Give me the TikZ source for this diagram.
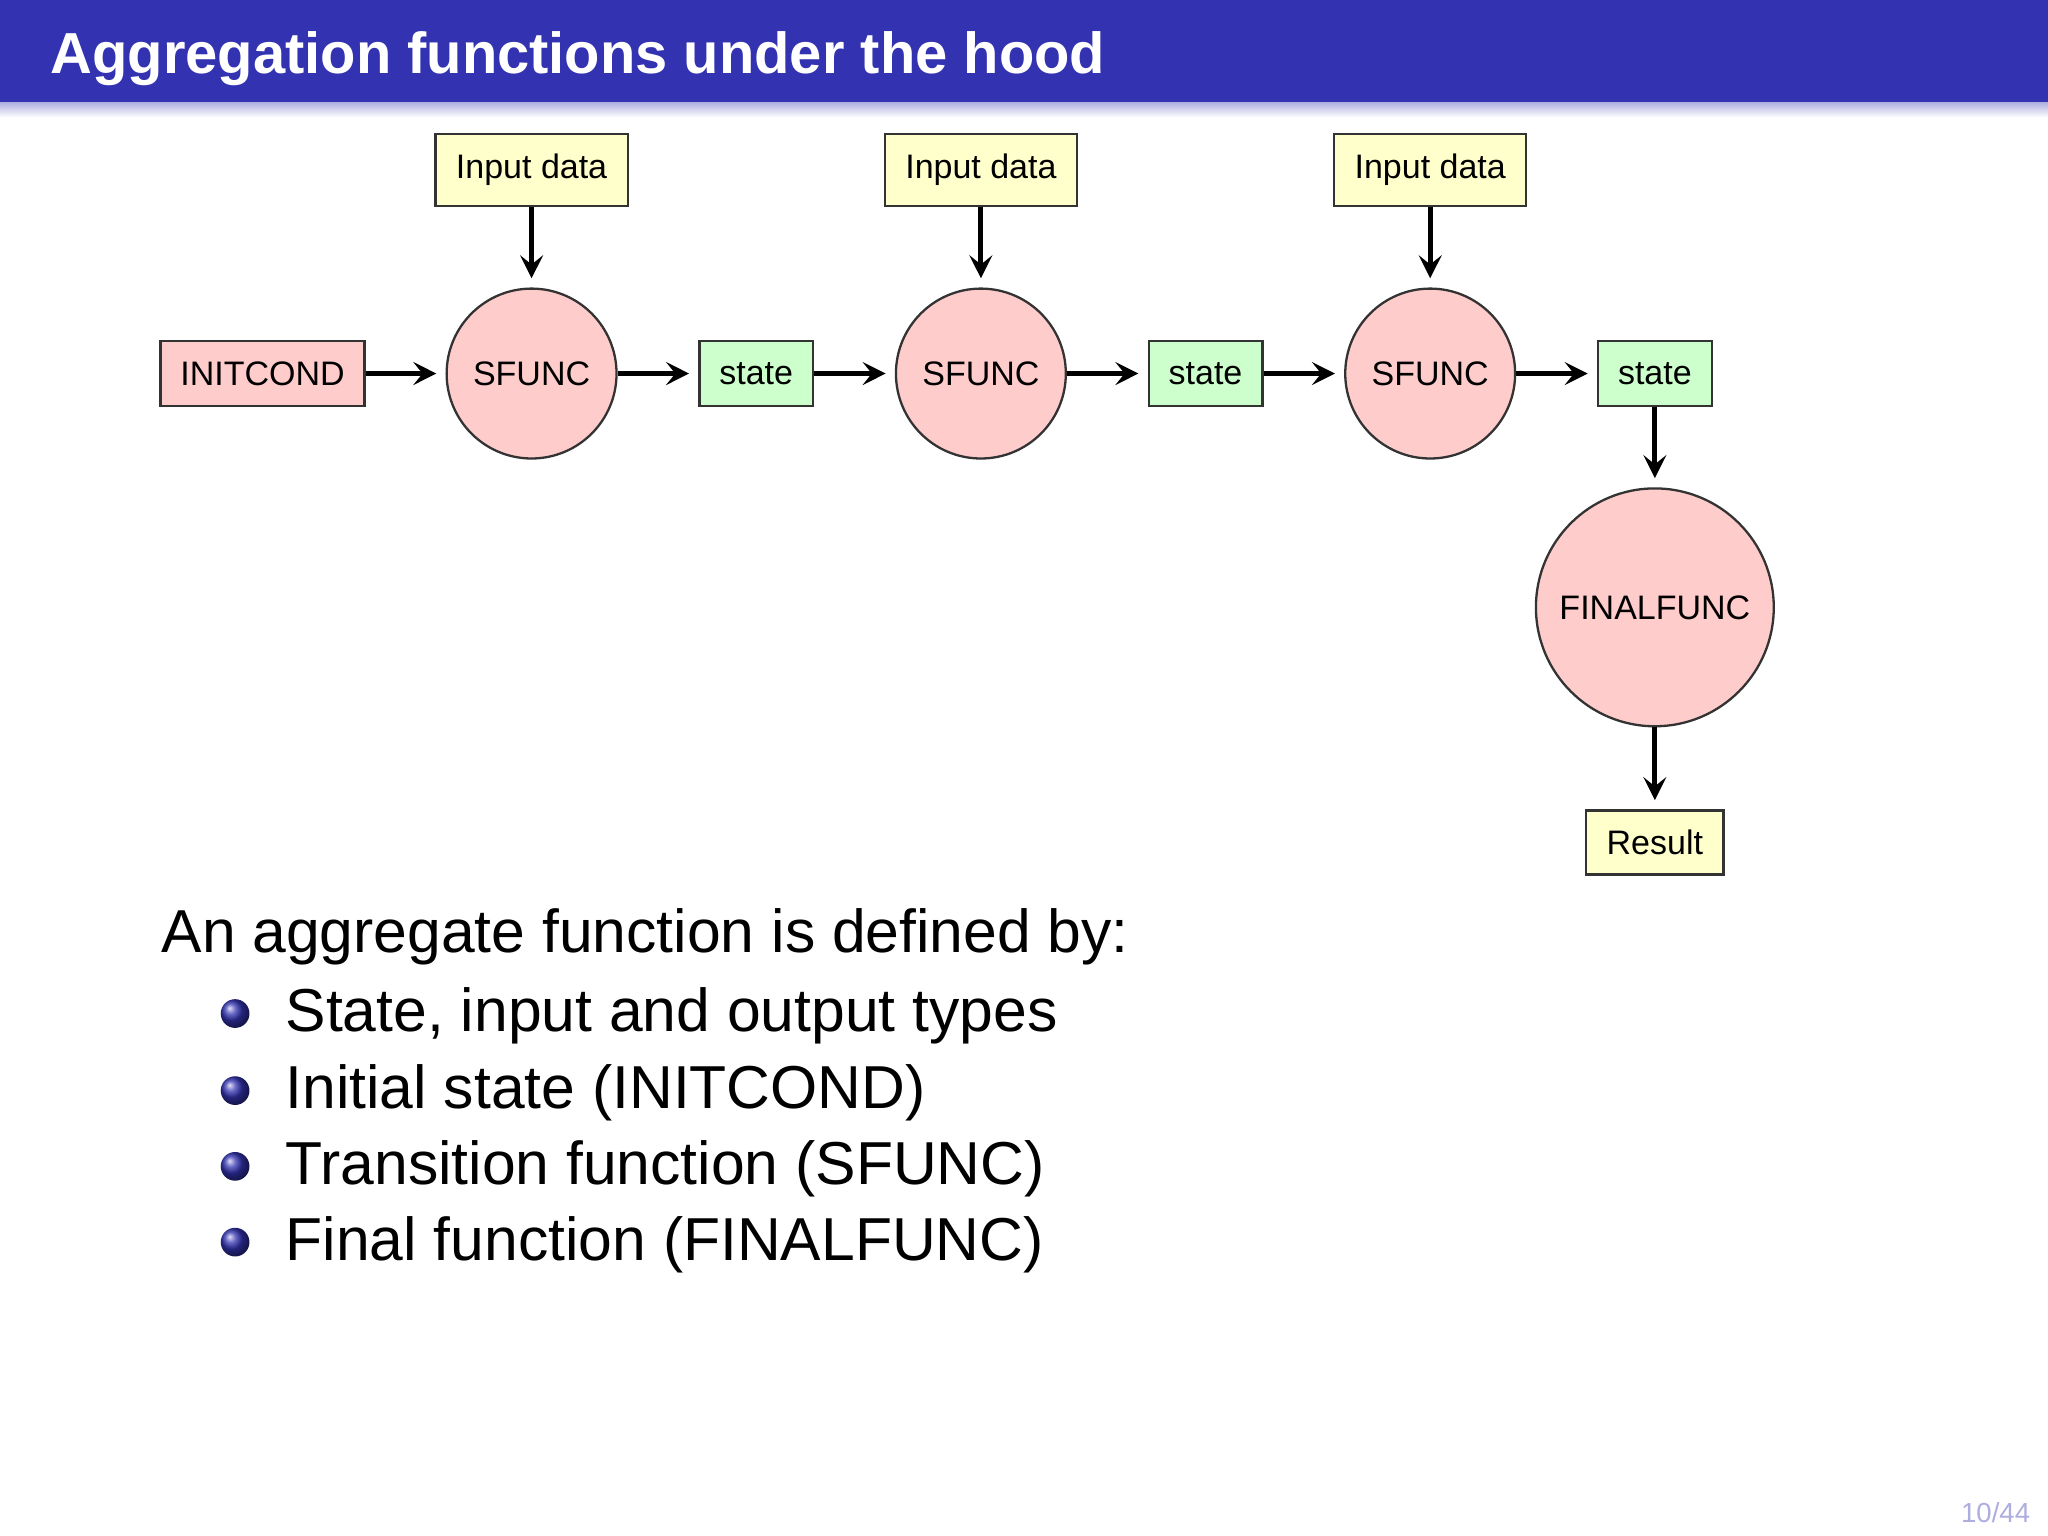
\documentclass[tikz,border=0pt]{standalone}
\usepackage{fontspec}
\setmainfont{Liberation Sans}
\usetikzlibrary{arrows.meta,shadings}
\definecolor{bar}{RGB}{51,51,178}
\definecolor{pinkf}{RGB}{255,204,204}
\definecolor{greenf}{RGB}{204,255,204}
\definecolor{yellowf}{RGB}{255,255,204}
\begin{document}
\begin{tikzpicture}[x=0.01cm,y=-0.01cm,
  box/.style={draw=black!80,line width=0.5pt,inner sep=0pt,font=\fontsize{7.4}{9}\selectfont},
  inp/.style={box,fill=yellowf,minimum width=147\pgflinewidth*0+1.47cm,minimum height=0.55cm},
  st/.style={box,fill=greenf,minimum width=0.87cm,minimum height=0.50cm},
  fn/.style={circle,draw=black!80,line width=0.5pt,fill=pinkf,inner sep=0pt,font=\fontsize{7.4}{9}\selectfont},
  ar/.style={-{Stealth[length=5pt,width=5pt,inset=2pt]},line width=1.1pt,shorten >=2pt},
  item/.style={anchor=base west,font=\fontsize{13.2}{15}\selectfont}]
\useasboundingbox (0,0) rectangle (1568,1176);
\shade[top color=bar!40,bottom color=white] (0,78) rectangle (1568,90);
\fill[bar] (0,0) rectangle (1568,78);
\node[anchor=base west,text=white,font=\fontsize{12.6}{15}\selectfont\bfseries,inner sep=0pt] (title) at (38,56) {Aggregation functions under the hood};
% diagram
\node[inp] (i1) at (407,130) {Input data};
\node[inp] (i2) at (751,130) {Input data};
\node[inp] (i3) at (1095,130) {Input data};
\node[box,fill=pinkf,minimum width=1.56cm,minimum height=0.50cm] (ic) at (201,286) {INITCOND};
\node[fn,minimum size=1.30cm] (s1) at (407,286) {SFUNC};
\node[fn,minimum size=1.30cm] (s2) at (751,286) {SFUNC};
\node[fn,minimum size=1.30cm] (s3) at (1095,286) {SFUNC};
\node[st] (t1) at (579,286) {state};
\node[st] (t2) at (923,286) {state};
\node[st] (t3) at (1267,286) {state};
\node[fn,minimum size=1.82cm] (ff) at (1267,465) {FINALFUNC};
\node[box,fill=yellowf,minimum width=1.05cm,minimum height=0.49cm] (res) at (1267,645) {Result};
\draw[ar] (i1) -- (s1);
\draw[ar] (i2) -- (s2);
\draw[ar] (i3) -- (s3);
\draw[ar] (ic) -- (s1);
\draw[ar] (s1) -- (t1);
\draw[ar] (t1) -- (s2);
\draw[ar] (s2) -- (t2);
\draw[ar] (t2) -- (s3);
\draw[ar] (s3) -- (t3);
\draw[ar] (t3) -- (ff);
\draw[ar] (ff) -- (res);
% text
\node[item,inner sep=0pt] (h) at (123,729) {An aggregate function is defined by:};
\foreach \y/\t [count=\i] in {790/{State, input and output types},849/{Initial state (INITCOND)},907/{Transition function (SFUNC)},965/{Final function (FINALFUNC)}}{
  \shade[ball color=bar] (180,\y-14) circle (11);
  \node[item,inner sep=0pt] (b\i) at (218,\y) {\t};
}
\node[anchor=base east,text=bar!40,font=\fontsize{6}{7}\selectfont,inner sep=0pt] (pg) at (1555,1166) {10/44};
\end{tikzpicture}
\end{document}
